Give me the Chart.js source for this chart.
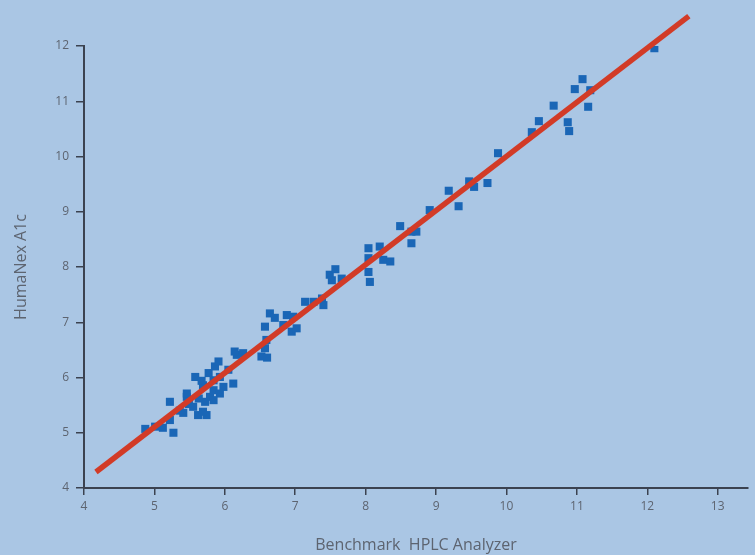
<!DOCTYPE html>
<html>
<head>
<meta charset="utf-8">
<script src="https://cdn.jsdelivr.net/npm/chart.js@4/dist/chart.umd.min.js"></script>
<style>
  html, body { margin: 0; padding: 0; background: #aac6e4; }
  #wrap { width: 755px; height: 555px; }
</style>
</head>
<body>
<div id="wrap"><canvas id="resultChart"></canvas></div>
<script>
// Benchmark HPLC (x) vs HumaNex A1c (y)
const benchX = [4.87, 5.01, 5.12, 5.27, 5.22, 5.22, 5.36, 5.41, 5.46, 5.49,
  5.58, 5.55, 5.62, 5.74, 5.72, 5.79, 5.84, 5.93, 5.98, 5.77,
  5.86, 5.91, 5.84, 5.69, 5.93, 6.12, 6.05, 6.17, 6.26, 5.67,
  5.84, 5.63, 5.69, 6.52, 6.60, 6.57, 6.59, 6.57, 6.64, 6.71,
  6.83, 6.88, 6.97, 6.95, 7.02, 7.14, 7.26, 7.38, 7.40, 7.49,
  7.57, 7.52, 7.66, 8.04, 8.20, 8.04, 8.25, 8.35, 8.04, 8.06,
  8.49, 8.65, 8.72, 8.65, 8.91, 9.32, 9.18, 9.47, 9.54, 9.73,
  9.88, 10.36, 10.46, 10.67, 10.87, 10.89, 11.16, 10.97, 11.08, 11.19,
  12.10, 5.46, 6.14]
const humaY = [5.07, 5.11, 5.09, 5.00, 5.56, 5.23, 5.40, 5.36, 5.65, 5.52,
  6.01, 5.47, 5.32, 5.32, 5.56, 5.65, 5.77, 5.71, 5.83, 6.08,
  6.20, 6.29, 5.95, 5.86, 6.01, 5.89, 6.14, 6.41, 6.44, 5.94,
  5.59, 5.62, 5.38, 6.38, 6.36, 6.53, 6.68, 6.92, 7.16, 7.08,
  6.95, 7.13, 7.10, 6.83, 6.89, 7.37, 7.37, 7.43, 7.31, 7.86,
  7.96, 7.76, 7.79, 8.34, 8.37, 8.16, 8.13, 8.10, 7.91, 7.73,
  8.74, 8.64, 8.64, 8.43, 9.03, 9.10, 9.38, 9.55, 9.45, 9.52,
  10.06, 10.44, 10.64, 10.92, 10.62, 10.46, 10.90, 11.22, 11.40, 11.20,
  11.96, 5.71, 6.47]

// regression line end points
const fitX = [4.17, 12.59]
const fitY = [4.29, 12.54]

const xTicks = [4, 5, 6, 7, 8, 9, 10, 11, 12, 13]
const yTicks = [4, 5, 6, 7, 8, 9, 10, 11, 12]

const axisColor = '#3b4250'
const labelColor = '#5d6470'

let points = benchX.map((x, i) => ({x: x, y: humaY[i]}))
let fitLine = fitX.map((x, i) => ({x: x, y: fitY[i]}))

let ctx = document.getElementById('resultChart').getContext('2d')

let myChart = new Chart(ctx, {
    type: 'scatter',
    data: {
        datasets: [{
            type: 'line',
            data: fitLine,
            borderColor: '#d23b27',
            borderWidth: 5.5,
            pointRadius: 0,
            clip: false,
            order: 0
        }, {
            data: points,
            pointStyle: 'rect',
            pointRadius: 5.7,
            backgroundColor: '#1a66b6',
            borderWidth: 0,
            order: 1
        }]
    },
    options: {
        responsive: true,
        maintainAspectRatio: false,
        animation: false,
        layout: { padding: { left: 0, top: 46, right: 7, bottom: 0 } },
        plugins: { legend: { display: false }, tooltip: { enabled: false } },
        scales: {
            x: {
                type: 'linear',
                min: 4,
                max: 13.43,
                afterBuildTicks: s => { s.ticks = xTicks.map(v => ({value: v})) },
                afterFit: s => { s.height = 67 },
                ticks: { color: labelColor, font: { family: 'Open Sans', size: 12 }, padding: 4 },
                grid: { drawOnChartArea: false, drawTicks: true, tickLength: 7, color: axisColor, lineWidth: 1.5 },
                border: { color: axisColor, width: 2 },
                title: {
                    display: true,
                    text: 'Benchmark  HPLC Analyzer',
                    color: labelColor,
                    font: { family: 'Open Sans', size: 16 },
                    padding: { top: 0, bottom: 0 }
                }
            },
            y: {
                type: 'linear',
                min: 4,
                max: 12,
                afterBuildTicks: s => { s.ticks = yTicks.map(v => ({value: v})) },
                afterFit: s => { s.width = 84 },
                ticks: { color: labelColor, font: { family: 'Open Sans', size: 12 }, padding: 7 },
                grid: { drawOnChartArea: false, drawTicks: true, tickLength: 8, color: axisColor, lineWidth: 1.5 },
                border: { color: axisColor, width: 2 },
                title: {
                    display: true,
                    text: 'HumaNex A1c',
                    color: labelColor,
                    font: { family: 'Open Sans', size: 16 },
                    padding: { top: 12, bottom: 0 }
                }
            }
        }
    }
})
</script>
</body>
</html>
